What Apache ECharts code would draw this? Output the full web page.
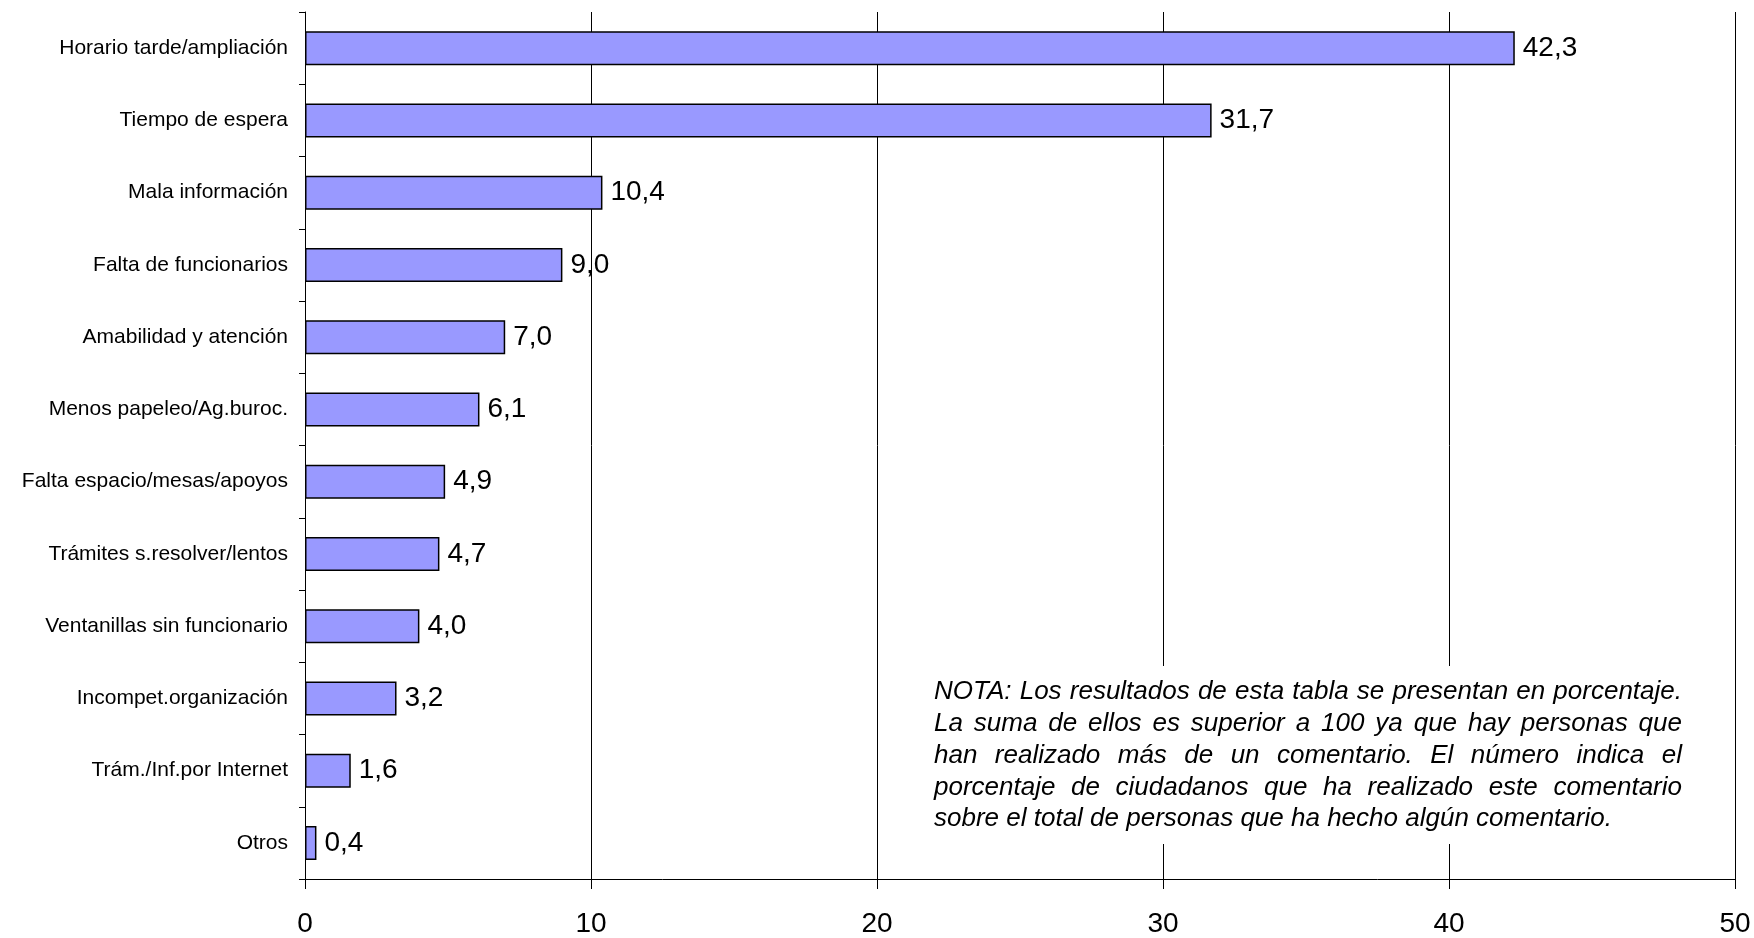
<!DOCTYPE html>
<html>
<head>
<meta charset="utf-8">
<title>Comentarios</title>
<script src="https://cdn.jsdelivr.net/npm/echarts@6/dist/echarts.min.js"></script>
<style>
  html, body { margin: 0; padding: 0; background: #fff; }
  #chart { width: 1754px; height: 938px; }
</style>
</head>
<body>
<div id="chart"></div>
<script>
// categorias, de arriba a abajo
const categorias = [
  "Horario tarde/ampliación",
  "Tiempo de espera",
  "Mala información",
  "Falta de funcionarios",
  "Amabilidad y atención",
  "Menos papeleo/Ag.buroc.",
  "Falta espacio/mesas/apoyos",
  "Trámites s.resolver/lentos",
  "Ventanillas sin funcionario",
  "Incompet.organización",
  "Trám./Inf.por Internet",
  "Otros",
];

const porcentajes = [42.3, 31.7, 10.4, 9.0, 7.0, 6.1, 4.9, 4.7, 4.0, 3.2, 1.6, 0.4];

const ejeX = { min: 0, max: 50, interval: 10 };

const notaLineas = [
  "NOTA: Los resultados de esta tabla se presentan en porcentaje.",
  "La suma de ellos es superior a 100 ya que hay personas que",
  "han realizado más de un comentario. El número indica el",
  "porcentaje de ciudadanos que ha realizado este comentario",
  "sobre el total de personas que ha hecho algún comentario.",
];

const fuente = "'Liberation Sans', Arial, sans-serif";

// texto justificado de la nota: se mide cada palabra y se reparte el hueco
function notaGraphic(left, top, width, lineH, fontSize) {
  var ctx = document.createElement("canvas").getContext("2d");
  ctx.font = "italic " + fontSize + "px " + fuente;
  var space = ctx.measureText(" ").width;
  var els = [];
  notaLineas.forEach((linea, i) => {
    var words = linea.split(" ");
    var widths = words.map((w) => ctx.measureText(w).width);
    var total = widths.reduce((a, b) => a + b, 0);
    var last = i === notaLineas.length - 1;
    var gap = last ? space : (width - total) / (words.length - 1);
    var x = left;
    words.forEach((w, j) => {
      els.push({
        type: "text",
        left: x,
        top: top + i * lineH,
        z: 101,
        style: {
          text: w,
          font: "italic " + fontSize + "px " + fuente,
          fill: "#000",
        },
      });
      x += widths[j] + gap;
    });
  });
  return els;
}

var myChart = echarts.init(document.getElementById("chart"));
var option;

option = {
  animation: false,
  backgroundColor: "#fff",
  textStyle: { fontFamily: fuente },
  grid: {
    left: 305,
    right: 19,
    top: 12,
    bottom: 58,
  },
  xAxis: {
    type: "value",
    min: ejeX.min,
    max: ejeX.max,
    interval: ejeX.interval,
    axisLine: { show: true, lineStyle: { color: "#000", width: 1 } },
    axisTick: { show: true, length: 10, lineStyle: { color: "#000" } },
    splitLine: { show: true, lineStyle: { color: "#000", width: 1 } },
    axisLabel: {
      color: "#000",
      fontSize: 28,
      margin: 31,
      fontFamily: fuente,
    },
  },
  yAxis: {
    type: "category",
    data: categorias,
    inverse: true,
    axisLine: { show: true, lineStyle: { color: "#000", width: 1 } },
    axisTick: { show: true, length: 6, lineStyle: { color: "#000" } },
    splitLine: { show: false },
    axisLabel: {
      color: "#000",
      fontSize: 21,
      margin: 17,
      fontFamily: fuente,
    },
  },
  series: [
    {
      type: "bar",
      data: porcentajes,
      barWidth: 34,
      itemStyle: {
        color: "#9999FF",
        borderColor: "#000",
        borderWidth: 1.5,
      },
      label: {
        show: true,
        position: "right",
        distance: 8,
        color: "#000",
        fontSize: 28,
        fontFamily: fuente,
        formatter: function (p) {
          return p.value.toFixed(1).replace(".", ",");
        },
      },
    },
  ],
  graphic: [
    {
      type: "rect",
      left: 918,
      top: 666,
      z: 100,
      shape: { width: 782, height: 178 },
      style: { fill: "#fff" },
    },
  ].concat(notaGraphic(934, 679, 748, 31.8, 26)),
};

option && myChart.setOption(option);
</script>
</body>
</html>
